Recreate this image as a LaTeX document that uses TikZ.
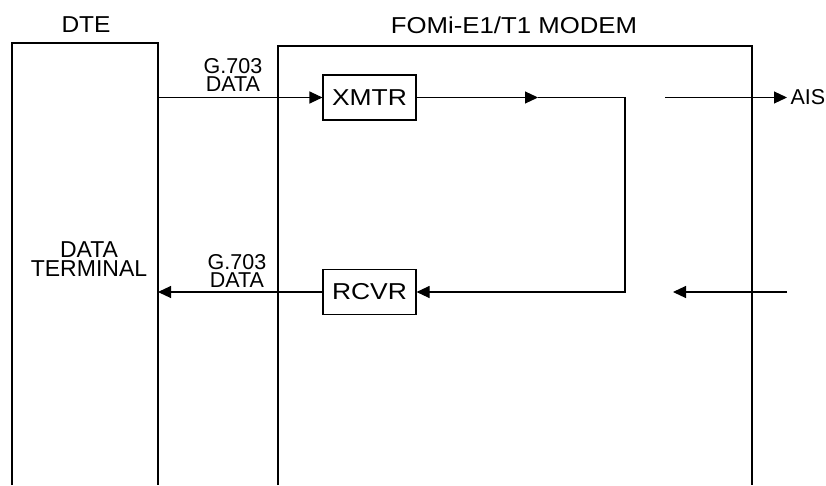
\documentclass[tikz,border=0pt]{standalone}
\usepackage{fontspec}
\setmainfont{Liberation Sans}
\newfontfamily\fttl[FakeStretch=1.12]{Liberation Sans}
\newfontfamily\fbx[FakeStretch=1.15]{Liberation Sans}
\newfontfamily\fdte[FakeStretch=1.065]{Liberation Sans}
\usetikzlibrary{arrows.meta}
\begin{document}
\begin{tikzpicture}[x=1pt,y=-1pt,
  font=\fontsize{21.5}{18}\selectfont,
  every path/.style={line width=1.1pt},
  blk/.style={draw, line width=1.1pt, minimum width=93pt, minimum height=45pt, inner sep=0pt, font=\fontsize{23}{19}\fbx},
  arr/.style={-{Triangle[length=13pt,width=12pt]}},
  lbl/.style={align=center, inner sep=0pt}]
\useasboundingbox (0,0) rectangle (826,485);
% enclosures
\draw (12,485) -- (12,43) -- (158,43) -- (158,485);
\draw (278,485) -- (278,46) -- (752,46) -- (752,485);
% titles
\node[anchor=base, inner sep=0pt, font=\fontsize{23}{19}\fdte] (dtet) at (86,32.3) {DTE};
\node[anchor=base, inner sep=0pt, font=\fontsize{23}{19}\fttl] (modt) at (514,33.3) {FOMi-E1/T1 MODEM};
\node[lbl, anchor=south, font=\fontsize{23}{19}\selectfont] (dterm) at (89,277) {DATA\\TERMINAL};
% blocks
\node[blk] (xmtr) at (369.5,97.5) {XMTR};
\node[blk] (rcvr) at (369.5,292) {RCVR};
% coordinates
\coordinate (dteA) at (158,97.5);
\coordinate (dteB) at (158,292);
\coordinate (mid) at (538,97.5);
\coordinate (turn) at (625,97.5);
\coordinate (aisS) at (665,97.5);
\coordinate (inS) at (787,292);
\coordinate (inE) at (673,292);
% connectors
\draw[arr] (dteA) -- (xmtr.west);
\node[lbl, anchor=south] (l1) at (233,92) {G.703\\DATA};
\draw[arr] (xmtr.east) -- (mid);
\draw[arr] (mid) -- (turn) |- (rcvr.east);
\draw[arr] (rcvr.west) -- (dteB);
\node[lbl, anchor=south] (l2) at (237,288) {G.703\\DATA};
\node[anchor=west, inner sep=0pt] (ais) at (790,97.5) {AIS};
\draw[arr, shorten >=3pt] (aisS) -- (ais.west);
\draw[arr] (inS) -- (inE);
\end{tikzpicture}
\end{document}
